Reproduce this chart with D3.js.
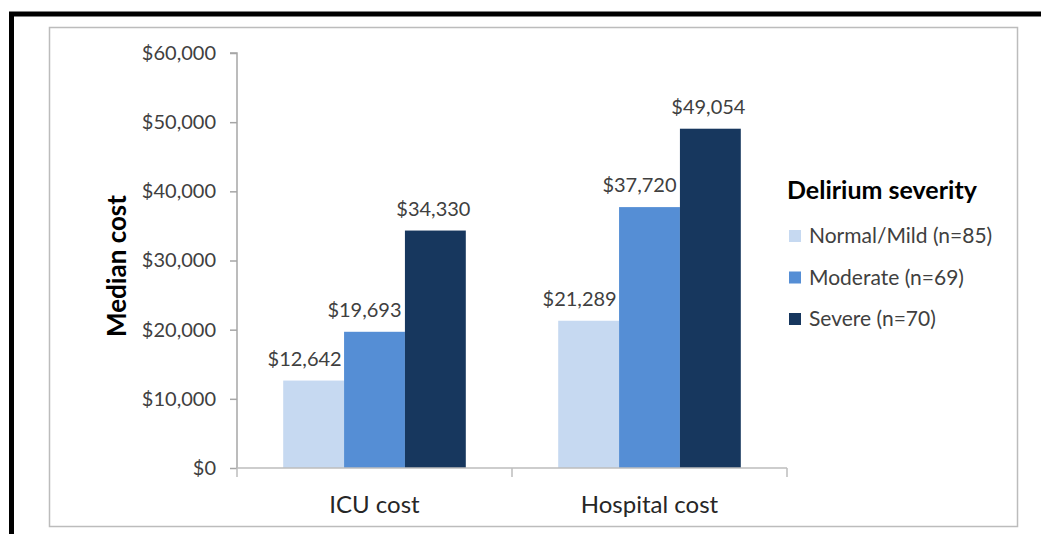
<!DOCTYPE html>
<html>
<head>
<meta charset="utf-8">
<script src="https://cdn.jsdelivr.net/npm/d3@7"></script>
<style>
	body { margin: 0; background: #fff; }
	svg { display: block; font-family: Lato, "Open Sans", sans-serif; }
</style>
</head>
<body>
<div class="container"></div>
<script>

var categories = ["ICU cost", "Hospital cost"];
var seriesNames = ["Normal/Mild (n=85)", "Moderate (n=69)", "Severe (n=70)"];
var mildValues = [12642, 21289];
var moderateValues = [19693, 37720];
var severeValues = [34330, 49054];
var yTicks = [0, 10000, 20000, 30000, 40000, 50000, 60000];
var colors = ["#c6d9f1", "#558ed5", "#17375e"];

var W = 1041, H = 534;
var plot = {left: 237, right: 787, top: 53, bottom: 468};

var svg = d3.select(".container")
	.append("svg")
	.attr("width", W)
	.attr("height", H);

// outer black frame (top + left only)
svg.append("path")
	.attr("d", "M11.5," + H + "V14H" + W)
	.attr("fill", "none")
	.attr("stroke", "#000")
	.attr("stroke-width", 5);

// chart area border
svg.append("rect")
	.attr("x", 49.5).attr("y", 27.5)
	.attr("width", 968).attr("height", 499)
	.attr("fill", "#fff")
	.attr("stroke", "#bcbcbc")
	.attr("stroke-width", 1.5);

var y = d3.scaleLinear().domain([0, 60000]).range([plot.bottom, plot.top]);
var x0 = d3.scaleBand().domain(categories).range([plot.left, plot.right])
	.paddingInner(0.336).paddingOuter(0.168);
var x1 = d3.scaleBand().domain(seriesNames).range([0, x0.bandwidth()]);

var rows = categories.map(function(c, i) {
	return {cat: c, vals: [mildValues[i], moderateValues[i], severeValues[i]]};
});

var fmt = d3.format("$,");
var labelShift = [-9, -10, -2];

var groups = svg.selectAll("g.grp")
	.data(rows)
	.enter().append("g")
	.attr("class", "grp")
	.attr("transform", function(d) { return "translate(" + x0(d.cat) + ",0)"; });

groups.selectAll("rect")
	.data(function(d) { return d.vals.map(function(v, j) { return {v: v, s: seriesNames[j], j: j}; }); })
	.enter().append("rect")
	.attr("x", function(d) { return x1(d.s); })
	.attr("y", function(d) { return y(d.v); })
	.attr("width", x1.bandwidth())
	.attr("height", function(d) { return y(0) - y(d.v); })
	.attr("fill", function(d) { return colors[d.j]; });

groups.selectAll("text")
	.data(function(d) { return d.vals.map(function(v, j) { return {v: v, s: seriesNames[j], j: j}; }); })
	.enter().append("text")
	.attr("x", function(d) { return x1(d.s) + x1.bandwidth() / 2 + labelShift[d.j]; })
	.attr("y", function(d) { return y(d.v) - 15; })
	.attr("text-anchor", "middle")
	.style("font-size", "20px")
	.style("fill", "#404040")
	.text(function(d) { return fmt(d.v); });

// y axis
var yAxis = d3.axisLeft(y).tickValues(yTicks).tickSize(7).tickPadding(14)
	.tickFormat(function(d) { return fmt(d); });
var ya = svg.append("g").attr("transform", "translate(" + plot.left + ",0)").call(yAxis);
ya.select(".domain").attr("stroke", "#a6a6a6").attr("stroke-width", 1.5)
	.attr("d", "M-7," + plot.top + "H0V" + plot.bottom);
ya.selectAll(".tick line").attr("stroke", "#a6a6a6").attr("stroke-width", 1.5);
ya.selectAll(".tick text").style("font-size", "20px").style("fill", "#404040")
	.style("font-family", "Lato, sans-serif");

// x axis
var xa = svg.append("g").attr("transform", "translate(0," + plot.bottom + ")");
xa.append("line").attr("x1", plot.left).attr("x2", plot.right)
	.attr("stroke", "#bcbcbc").attr("stroke-width", 1.5);
xa.selectAll("line.sep")
	.data([plot.left, x0.step() + plot.left, plot.right])
	.enter().append("line").attr("class", "sep")
	.attr("x1", function(d) { return d; }).attr("x2", function(d) { return d; })
	.attr("y1", 0).attr("y2", 9)
	.attr("stroke", "#bcbcbc").attr("stroke-width", 1.5);
xa.selectAll("text")
	.data(categories)
	.enter().append("text")
	.attr("x", function(d) { return x0(d) + x0.bandwidth() / 2; })
	.attr("y", 45)
	.attr("text-anchor", "middle")
	.style("font-size", "24px")
	.style("fill", "#262626")
	.text(function(d) { return d; });

// y axis title
svg.append("text")
	.attr("transform", "translate(126,266) rotate(-90)")
	.attr("text-anchor", "middle")
	.style("font-size", "26px")
	.style("font-weight", "bold")
	.style("fill", "#000")
	.text("Median cost");

// legend
var legend = svg.append("g").attr("transform", "translate(787,0)");
legend.append("text")
	.attr("x", 0).attr("y", 199)
	.style("font-size", "25px")
	.style("font-weight", "bold")
	.style("fill", "#000")
	.text("Delirium severity");
var items = legend.selectAll("g.item")
	.data(seriesNames)
	.enter().append("g").attr("class", "item")
	.attr("transform", function(d, i) { return "translate(0," + (230 + i * 41.5) + ")"; });
items.append("rect")
	.attr("x", 2).attr("y", 0)
	.attr("width", 12).attr("height", 12)
	.attr("fill", function(d, i) { return colors[i]; });
items.append("text")
	.attr("x", 22).attr("y", 13)
	.style("font-size", "21px")
	.style("fill", "#404040")
	.text(function(d) { return d; });

</script>
</body>
</html>
